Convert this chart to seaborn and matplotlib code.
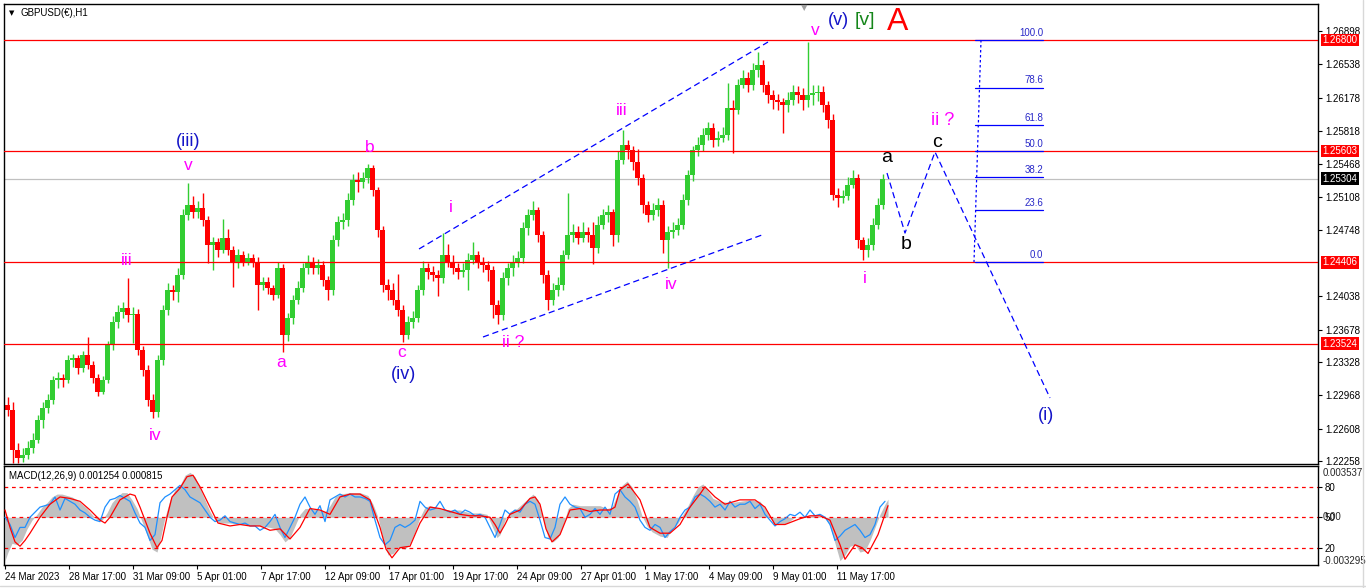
import numpy as np
import pandas as pd
import matplotlib
matplotlib.use("Agg")
import matplotlib.pyplot as plt
import matplotlib.transforms as mtransforms
from matplotlib.lines import Line2D
import seaborn as sns

# ---------------- data ----------------
bars_per_candle = 5
open0 = 1.2286
close = [
    1.2281, 1.2238, 1.2229, 1.2233, 1.2240, 1.2249, 1.2270, 1.2283, 1.2292, 1.2313,
    1.2316, 1.2313, 1.2335, 1.2337, 1.2326, 1.2340, 1.2330, 1.2316, 1.2301, 1.2313,
    1.2351, 1.2376, 1.2387, 1.2391, 1.2383, 1.2385, 1.2346, 1.2324, 1.2292, 1.2279,
    1.2335, 1.2389, 1.2410, 1.2408, 1.2427, 1.2491, 1.2502, 1.2495, 1.2499, 1.2486,
    1.2459, 1.2462, 1.2454, 1.2467, 1.2454, 1.2441, 1.2448, 1.2441, 1.2445, 1.2441,
    1.2416, 1.2419, 1.2413, 1.2405, 1.2434, 1.2362, 1.2380, 1.2400, 1.2413, 1.2434,
    1.2441, 1.2434, 1.2437, 1.2421, 1.2410, 1.2464, 1.2484, 1.2486, 1.2508, 1.2529,
    1.2527, 1.2531, 1.2542, 1.2518, 1.2475, 1.2416, 1.2410, 1.2400, 1.2389, 1.2362,
    1.2376, 1.2380, 1.2410, 1.2434, 1.2430, 1.2427, 1.2423, 1.2448, 1.2441, 1.2434,
    1.2430, 1.2432, 1.2443, 1.2448, 1.2441, 1.2437, 1.2432, 1.2394, 1.2383, 1.2423,
    1.2434, 1.2441, 1.2445, 1.2477, 1.2491, 1.2497, 1.2470, 1.2427, 1.2400, 1.2410,
    1.2416, 1.2448, 1.2470, 1.2473, 1.2467, 1.2473, 1.2470, 1.2456, 1.2481, 1.2491,
    1.2495, 1.2470, 1.2551, 1.2567, 1.2561, 1.2548, 1.2531, 1.2502, 1.2491, 1.2497,
    1.2502, 1.2464, 1.2473, 1.2475, 1.2481, 1.2508, 1.2534, 1.2561, 1.2567, 1.2578,
    1.2585, 1.2572, 1.2574, 1.2578, 1.2607, 1.2605, 1.2631, 1.2639, 1.2631, 1.2648,
    1.2653, 1.2631, 1.2621, 1.2615, 1.2613, 1.2610, 1.2615, 1.2624, 1.2621, 1.2615,
    1.2621, 1.2623, 1.2624, 1.2610, 1.2594, 1.2513, 1.2510, 1.2512, 1.2524, 1.2531,
    1.2464, 1.2454, 1.2459, 1.2481, 1.2502, 1.2530]
high = [
    1.2295, 1.2290, 1.2245, 1.2240, 1.2248, 1.2256, 1.2276, 1.2290, 1.2298, 1.2318,
    1.2322, 1.2320, 1.2340, 1.2342, 1.2340, 1.2345, 1.2360, 1.2334, 1.2320, 1.2318,
    1.2356, 1.2382, 1.2394, 1.2398, 1.2423, 1.2392, 1.2390, 1.2350, 1.2330, 1.2298,
    1.2340, 1.2394, 1.2418, 1.2416, 1.2434, 1.2498, 1.2526, 1.2512, 1.2506, 1.2515,
    1.2490, 1.2468, 1.2466, 1.2487, 1.2476, 1.2458, 1.2455, 1.2452, 1.2450, 1.2449,
    1.2446, 1.2425, 1.2424, 1.2416, 1.2441, 1.2438, 1.2386, 1.2405, 1.2420, 1.2440,
    1.2448, 1.2446, 1.2444, 1.2442, 1.2426, 1.2470, 1.2490, 1.2494, 1.2515, 1.2536,
    1.2538, 1.2538, 1.2546, 1.2545, 1.2522, 1.2480, 1.2422, 1.2418, 1.2428, 1.2394,
    1.2382, 1.2388, 1.2416, 1.2442, 1.2440, 1.2436, 1.2432, 1.2472, 1.2460, 1.2448,
    1.2440, 1.2440, 1.2450, 1.2462, 1.2452, 1.2446, 1.2442, 1.2436, 1.2400, 1.2430,
    1.2440, 1.2448, 1.2452, 1.2484, 1.2498, 1.2506, 1.2500, 1.2474, 1.2432, 1.2418,
    1.2424, 1.2454, 1.2515, 1.2482, 1.2480, 1.2484, 1.2478, 1.2484, 1.2490, 1.2498,
    1.2502, 1.2498, 1.2560, 1.2583, 1.2572, 1.2566, 1.2562, 1.2536, 1.2506, 1.2504,
    1.2510, 1.2508, 1.2480, 1.2484, 1.2488, 1.2514, 1.2540, 1.2566, 1.2575, 1.2585,
    1.2592, 1.2590, 1.2582, 1.2586, 1.2634, 1.2615, 1.2638, 1.2648, 1.2645, 1.2655,
    1.2667, 1.2658, 1.2636, 1.2626, 1.2622, 1.2618, 1.2624, 1.2632, 1.2630, 1.2628,
    1.2678, 1.2632, 1.2632, 1.2630, 1.2614, 1.2600, 1.2520, 1.2518, 1.2532, 1.2540,
    1.2536, 1.2468, 1.2466, 1.2488, 1.2510, 1.2536]
low = [
    1.2275, 1.2224, 1.2224, 1.2225, 1.2228, 1.2235, 1.2245, 1.2262, 1.2278, 1.2288,
    1.2305, 1.2306, 1.2310, 1.2328, 1.2320, 1.2322, 1.2325, 1.2310, 1.2296, 1.2298,
    1.2310, 1.2346, 1.2370, 1.2380, 1.2376, 1.2353, 1.2340, 1.2318, 1.2285, 1.2272,
    1.2274, 1.2330, 1.2384, 1.2400, 1.2398, 1.2422, 1.2486, 1.2488, 1.2488, 1.2480,
    1.2440, 1.2432, 1.2446, 1.2450, 1.2448, 1.2414, 1.2434, 1.2436, 1.2437, 1.2435,
    1.2389, 1.2410, 1.2406, 1.2400, 1.2402, 1.2344, 1.2355, 1.2374, 1.2395, 1.2408,
    1.2428, 1.2428, 1.2428, 1.2415, 1.2400, 1.2405, 1.2458, 1.2476, 1.2480, 1.2502,
    1.2516, 1.2520, 1.2526, 1.2512, 1.2468, 1.2408, 1.2400, 1.2394, 1.2382, 1.2354,
    1.2358, 1.2370, 1.2376, 1.2405, 1.2422, 1.2420, 1.2404, 1.2418, 1.2435, 1.2428,
    1.2422, 1.2424, 1.2410, 1.2438, 1.2434, 1.2430, 1.2420, 1.2380, 1.2374, 1.2378,
    1.2416, 1.2426, 1.2435, 1.2440, 1.2470, 1.2486, 1.2462, 1.2418, 1.2389, 1.2394,
    1.2404, 1.2410, 1.2444, 1.2462, 1.2460, 1.2462, 1.2462, 1.2438, 1.2450, 1.2476,
    1.2484, 1.2458, 1.2462, 1.2546, 1.2552, 1.2540, 1.2524, 1.2494, 1.2484, 1.2486,
    1.2490, 1.2450, 1.2434, 1.2466, 1.2470, 1.2476, 1.2502, 1.2528, 1.2555, 1.2560,
    1.2572, 1.2565, 1.2566, 1.2570, 1.2572, 1.2558, 1.2600, 1.2628, 1.2624, 1.2626,
    1.2640, 1.2624, 1.2612, 1.2606, 1.2604, 1.2580, 1.2602, 1.2610, 1.2612, 1.2604,
    1.2608, 1.2610, 1.2614, 1.2602, 1.2585, 1.2508, 1.2500, 1.2504, 1.2508, 1.2520,
    1.2456, 1.2443, 1.2446, 1.2454, 1.2476, 1.2498]

red_levels = [1.26800, 1.25603, 1.24406, 1.23524]
current_price = 1.25304
price_ticks = [1.26898, 1.26538, 1.26178, 1.25818, 1.25468, 1.25108, 1.24748,
               1.24038, 1.23678, 1.23328, 1.22968, 1.22608, 1.22258]

time_tick_bars = [0, 64, 128, 192, 256, 320, 384, 448, 512, 576, 640, 704, 768, 832]
time_tick_labels = ['24 Mar 2023', '28 Mar 17:00', '31 Mar 09:00', '5 Apr 01:00',
                    '7 Apr 17:00', '12 Apr 09:00', '17 Apr 01:00', '19 Apr 17:00',
                    '24 Apr 09:00', '27 Apr 01:00', '1 May 17:00', '4 May 09:00',
                    '9 May 01:00', '11 May 17:00']

# wedge channel (bar index, price)
channel_upper_x = [414, 763]
channel_upper_y = [1.24547, 1.26778]
channel_lower_x = [478, 757]
channel_lower_y = [1.23598, 1.24698]
# projected path a-b-c-(i)
proj_x = [882, 900, 930, 1045]
proj_y = [1.25366, 1.24719, 1.25593, 1.22941]
# fibonacci retracement
fib_low, fib_high = 1.24406, 1.26800
fib_levels = [0.0, 23.6, 38.2, 50.0, 61.8, 78.6, 100.0]

# MACD (values in units of 0.001)
hist_x = [0, 3, 7, 12, 17, 22, 27, 32, 37, 42, 47, 52, 57, 62, 67, 72, 77, 82, 87, 92,
          97, 102, 107, 112, 117, 122, 127, 132, 137, 142, 147, 152, 155, 160, 165, 170,
          175, 180, 185, 190, 195, 200, 205, 210, 215, 225, 235, 245, 255, 265, 270, 275,
          280, 285, 290, 295, 300, 305, 315, 320, 325, 330, 335, 345, 355, 363, 368, 373,
          378, 383, 388, 393, 400, 405, 410, 415, 420, 425, 435, 445, 455, 465, 475, 482,
          487, 492, 495, 500, 505, 512, 520, 528, 533, 538, 543, 548, 553, 558, 563, 568,
          575, 585, 595, 602, 607, 612, 617, 622, 627, 632, 637, 642, 647, 655, 662, 667,
          673, 678, 683, 688, 693, 698, 703, 708, 715, 725, 735, 745, 755, 760, 765, 770,
          775, 782, 790, 800, 810, 820, 825, 830, 835, 840, 845, 850, 855, 860, 865, 870,
          875, 880, 883]
hist_v = [-3.0, -2.4, -1.8, -1.9, -1.6, -0.8, -0.2, 0.2, 0.7, 1.0, 1.4, 1.6, 1.6, 1.5,
          1.4, 1.2, 0.9, 0.6, 0.2, -0.2, -0.2, 0.3, 1.0, 1.4, 1.7, 1.7, 1.2, 0.6, -0.3,
          -1.2, -2.2, -2.4, -1.6, 0.0, 1.2, 1.9, 2.2, 2.9, 3.1, 2.8, 2.0, 1.2, 0.4, -0.2,
          -0.4, -0.4, -0.5, -0.5, -0.6, -0.7, -0.8, -1.2, -1.7, -1.4, -0.6, 0.2, 0.6, 0.6,
          0.5, 0.4, 0.8, 1.4, 1.6, 1.7, 1.7, 1.5, 0.9, 0.0, -1.5, -2.6, -2.5, -2.1, -2.2,
          -1.8, -1.0, 0.0, 0.7, 0.8, 0.6, 0.5, 0.5, 0.3, 0.3, 0.2, -0.6, -1.4, -1.2, -0.2,
          0.4, 0.6, 1.1, 1.6, 1.2, -0.1, -1.4, -1.7, -1.4, -0.6, 0.6, 0.9, 0.8, 0.8, 0.8,
          0.6, 0.7, 1.5, 2.2, 2.5, 2.1, 1.2, 0.1, -0.6, -1.0, -1.3, -1.4, -0.8, -0.4, 0.2,
          0.8, 1.5, 2.1, 2.3, 1.8, 1.3, 1.1, 1.0, 1.1, 1.2, 1.1, 0.6, 0.0, -0.5, -0.5,
          -0.4, 0.0, 0.1, 0.1, 0.0, -0.6, -1.8, -3.0, -2.6, -2.0, -1.9, -2.4, -2.3, -1.6,
          -0.7, 0.2, 0.9, 1.25]
sig_x = [0, 5, 10, 15, 20, 25, 35, 45, 55, 65, 75, 85, 95, 100, 105, 115, 125, 130, 135,
         145, 152, 157, 162, 167, 175, 182, 188, 195, 205, 213, 225, 235, 245, 255, 265,
         275, 285, 295, 305, 315, 325, 335, 345, 355, 365, 375, 381, 387, 395, 405, 415,
         425, 435, 445, 455, 465, 475, 485, 490, 495, 500, 505, 515, 525, 530, 535, 541,
         547, 555, 565, 575, 585, 595, 605, 610, 615, 623, 635, 645, 655, 665, 675, 685,
         695, 700, 710, 720, 735, 750, 760, 770, 780, 795, 805, 815, 825, 835, 840, 850,
         857, 863, 873, 883]
sig_v = [0.5, -0.7, -1.7, -2.0, -1.6, -1.1, 0.0, 0.9, 1.4, 1.3, 1.1, 0.5, -0.2, -0.4,
         0.0, 1.2, 1.6, 1.5, 0.7, -1.1, -2.1, -1.6, 0.0, 1.4, 2.0, 2.8, 2.9, 2.1, 0.7,
         -0.4, -0.6, -0.5, -0.6, -0.6, -0.9, -0.8, -1.5, -0.7, 0.6, 0.5, 0.2, 1.4, 1.6,
         1.6, 1.2, -0.7, -2.2, -2.8, -2.1, -2.0, -0.4, 0.7, 0.6, 0.4, 0.2, 0.1, 0.1, 0.0,
         -0.5, -1.1, -0.5, 0.2, 0.5, 1.3, 1.4, 0.9, -0.8, -1.7, -1.2, 0.5, 0.6, 0.4, 0.5,
         0.5, 0.7, 1.9, 2.3, 1.2, -0.7, -1.1, -1.1, -0.5, 0.7, 1.6, 2.1, 1.4, 0.9, 1.2,
         1.2, 0.7, -0.5, -0.5, -0.1, 0.1, 0.1, -0.2, -1.9, -2.9, -1.9, -2.1, -2.5, -1.2,
         0.8]
blue_v = [0, -0.5, -1.4, -0.7, -0.7, 0, 0.35, 0.7, 0.8, 0.9, 1.4, 0.5, 1.3, 1.1, 0.9,
          0.5, 0.3, 0, -0.2, -0.3, 0.7, 1.2, 1.3, 1.5, 1.3, 1.1, 0.3, -0.4, -0.7, -1.6,
          -1.2, 1.0, 1.4, 1.6, 1.9, 2.2, 1.9, 1.4, 1.2, 1.0, 0.5, 0, -0.3, -0.2, 0.1,
          -0.3, -0.4, -0.5, -0.4, -0.6, -0.6, -0.9, -0.7, -0.3, 0.2, -0.7, -1.4, -0.7, 0,
          0.9, 1.4, 0.7, 0.2, 0.8, -0.3, 1.2, 1.4, 1.6, 1.4, 1.6, 1.4, 1.4, 1.3, 1.1,
          -0.2, -1.4, -1.9, -1.6, -0.7, -0.5, -0.7, -0.5, -0.2, 1.1, 0.7, 0.5, 0.6, 1.1,
          0.5, 0.35, 0.5, 0.2, 0.5, 0.35, 0.1, 0.2, 0, -0.7, -1.4, -0.5, 0.5, 0.2, 0.5,
          0.35, 0.9, 1.1, 0.9, -0.2, -1.4, -1.5, -0.7, 0.9, 1.4, 0.9, 0.7, 0.6, 0, 0.2,
          0.6, 0.2, 0.7, 0.2, 1.6, 1.9, 1.4, 1.1, 0.7, -0.2, -0.7, -0.9, -0.5, -0.7, -1.4,
          -1.0, -0.7, 0, 0.5, 0.7, 1.4, 1.6, 1.4, 1.1, 0.7, 0.9, 0.5, 1.1, 0.7, 0.9, 0.9,
          1.1, 0.6, 0.9, 0.2, -0.2, -0.6, -0.3, -0.1, 0.2, 0.1, 0.35, 0, 0.5, 0.1, 0.2,
          0, -0.5, -1.6, -1.3, -0.9, -0.7, -0.5, -0.9, -1.4, -1.2, -0.5, 0.7, 1.1]
macd_levels = [2.11, 0.0, -2.10]
macd_level_labels = ['80', '50', '20']

# ---------------- style ----------------
sns.set_theme(style="white")
plt.rcParams['font.family'] = ['Liberation Sans', 'DejaVu Sans']

W, H = 1366, 588
fig = plt.figure(figsize=(W / 100, H / 100), dpi=100)
fig.patch.set_facecolor('white')
ax = fig.add_axes([4 / W, 124 / H, 1314 / W, 460 / H])
axm = fig.add_axes([4 / W, 23 / H, 1314 / W, 99 / H])
for a in (ax, axm):
    a.set_facecolor('white')
    for s in a.spines.values():
        s.set_color('black')
        s.set_linewidth(1.0)
    a.set_xlim(-1, 1313)
    a.grid(False)

# ---------------- candles ----------------
n = len(close)
opens = [open0] + close[:-1]
df = pd.DataFrame({'x': bars_per_candle * np.arange(n) + bars_per_candle / 2,
                   'open': opens, 'close': close, 'high': high, 'low': low})
up = df['close'] >= df['open']
cols = np.where(up, '#32CD32', '#FF0000')
ax.vlines(df['x'], np.minimum(df['low'], df[['open', 'close']].min(axis=1)),
          np.maximum(df['high'], df[['open', 'close']].max(axis=1)),
          colors=cols, lw=1.0, zorder=2)
body = (df['close'] - df['open']).abs().clip(lower=0.00005)
ax.bar(df['x'], body, bottom=np.minimum(df['open'], df['close']), width=4.2,
       color=cols, linewidth=0, zorder=2)

ax.set_ylim(1.22229, 1.27188)
for lv in red_levels:
    ax.axhline(lv, color='#FF0000', lw=0.9, zorder=3)
ax.axhline(current_price, color='#C0C0C0', lw=0.9, zorder=1)

# channel & projection
ax.plot(channel_upper_x, channel_upper_y, color='#0000FF', lw=0.9, ls=(0, (5, 3)), zorder=4)
ax.plot(channel_lower_x, channel_lower_y, color='#0000FF', lw=0.9, ls=(0, (5, 3)), zorder=4)
sns.lineplot(x=proj_x, y=proj_y, ax=ax, color='#0000FF', lw=0.9, sort=False,
             estimator=None, zorder=4, linestyle=(0, (5, 3)))

# fibonacci
fib_prices = [fib_low + l / 100 * (fib_high - fib_low) for l in fib_levels]
ax.plot([976, 969], [fib_high, fib_low], color='#0000FF', lw=0.9, ls=(0, (2, 2)), zorder=4)
for l, p in zip(fib_levels, fib_prices):
    ax.plot([970, 1038], [p, p], color='#0000FF', lw=0.9, zorder=4)
    ax.annotate(f'{l:.1f}', (1038, p), xytext=(0, 1.5), textcoords='offset points',
                ha='right', va='bottom', fontsize=7, color='#2828C8')

# right axis
ax.yaxis.tick_right()
ax.set_yticks(price_ticks)
ax.set_yticklabels([f'{t:.5f}' for t in price_ticks])
ax.tick_params(axis='y', right=True, left=False, length=3, width=0.8, pad=2,
               labelsize=7, colors='black', direction='out')
ax.set_xticks([])
trans = mtransforms.blended_transform_factory(ax.transAxes, ax.transData)
for lv in red_levels:
    ax.text(1.0035, lv, f'{lv:.5f}', transform=trans, ha='left', va='center', fontsize=7,
            color='white', clip_on=False, zorder=10,
            bbox=dict(boxstyle='square,pad=0.15', fc='#FF0000', ec='none'))
ax.text(1.0035, current_price, f'{current_price:.5f}', transform=trans, ha='left',
        va='center', fontsize=7, color='white', clip_on=False, zorder=10,
        bbox=dict(boxstyle='square,pad=0.15', fc='black', ec='none'))

# wave labels
MAG = '#FF00FF'
BLU = '#1414C8'
def lab(x, y, s, color, size):
    ax.text(x, y, s, color=color, fontsize=size, ha='center', va='center', zorder=6,
            clip_on=False)

lab(183, 1.25711, '(iii)', BLU, 13)
lab(183, 1.25442, 'v', MAG, 12.5)
lab(365, 1.25646, 'b', MAG, 12.5)
lab(446, 1.24999, 'i', MAG, 12.5)
lab(122, 1.24428, 'iii', MAG, 12.5)
lab(150, 1.22531, 'iv', MAG, 12.5)
lab(276, 1.23318, 'a', MAG, 12.5)
lab(397, 1.23436, 'c', MAG, 12.5)
lab(399, 1.23189, '(iv)', BLU, 13)
lab(508, 1.23544, 'ii ?', MAG, 12.5)
lab(617, 1.26045, 'iii', MAG, 12.5)
lab(666, 1.24159, 'iv', MAG, 12.5)
lab(860, 1.24234, 'i', MAG, 12.5)
lab(810, 1.26897, 'v', MAG, 12.5)
lab(833, 1.27005, '(v)', BLU, 13)
lab(860, 1.27005, '[v]', '#15861A', 14)
lab(893, 1.26994, 'A', '#FF0000', 23)
lab(882, 1.25528, 'a', 'black', 14)
lab(901, 1.24590, 'b', 'black', 14)
lab(932, 1.25700, 'c', 'black', 14)
lab(938, 1.25937, 'ii ?', MAG, 13)
lab(1041, 1.22747, '(i)', BLU, 13)

ax.text(0.0122, 0.981, 'GBPUSD(€),H1', transform=ax.transAxes, fontsize=7,
        ha='left', va='center', color='black')
ax.text(0.0058, 0.980, '▼', transform=ax.transAxes, fontsize=5, ha='center',
        va='center', color='black', family=['DejaVu Sans'])
ax.text(0.6088, 0.993, '▼', transform=ax.transAxes, fontsize=6, ha='center',
        va='center', color='#A0A0A0', family=['DejaVu Sans'])

# ---------------- MACD ----------------
axm.set_ylim(-3.295, 3.537)
axm.fill_between(hist_x, 0, hist_v, color='#C0C0C0', lw=0, zorder=1)
blue_x = bars_per_candle * np.arange(len(blue_v))
sns.lineplot(x=blue_x, y=blue_v, ax=axm, color='#1E90FF', lw=0.9, sort=False,
             estimator=None, zorder=3)
sns.lineplot(x=sig_x, y=sig_v, ax=axm, color='#FF0000', lw=0.9, sort=False,
             estimator=None, zorder=4)
for lv in macd_levels:
    axm.axhline(lv, color='#FF0000', lw=0.9, ls=(0, (3, 3)), zorder=2)
axm.yaxis.tick_right()
axm.set_yticks(macd_levels)
axm.set_yticklabels(macd_level_labels)
axm.tick_params(axis='y', right=True, left=False, length=3, width=0.8, pad=2,
                labelsize=7, colors='black', direction='out')
tm = mtransforms.blended_transform_factory(axm.transAxes, axm.transData)
axm.text(1.0035, 0.0, '0.00', transform=tm, ha='left', va='center', fontsize=7,
         clip_on=False)
axm.text(1.0035, 3.04, '0.003537', transform=tm, ha='left', va='center', fontsize=7,
         clip_on=False)
axm.text(1.0035, -3.01, '-0.003295', transform=tm, ha='left', va='center', fontsize=7,
         clip_on=False)
axm.text(0.0038, 0.90, 'MACD(12,26,9) 0.001254 0.000815', transform=axm.transAxes,
         fontsize=7, ha='left', va='center', color='black')

axm.set_xticks(time_tick_bars)
axm.set_xticklabels(time_tick_labels, ha='left')
axm.tick_params(axis='x', bottom=True, length=3, width=0.8, pad=2, labelsize=7,
                colors='black', direction='out')
axm.set_xlabel('')
axm.set_ylabel('')
ax.set_xlabel('')
ax.set_ylabel('')

# window frame lines
fig.add_artist(Line2D([1363 / W, 1363 / W], [0, 1], color='#D8D8D8', lw=1))
fig.add_artist(Line2D([0, 1], [2 / H, 2 / H], color='#D8D8D8', lw=1))

fig.savefig('out.png', dpi=100, facecolor='white')
